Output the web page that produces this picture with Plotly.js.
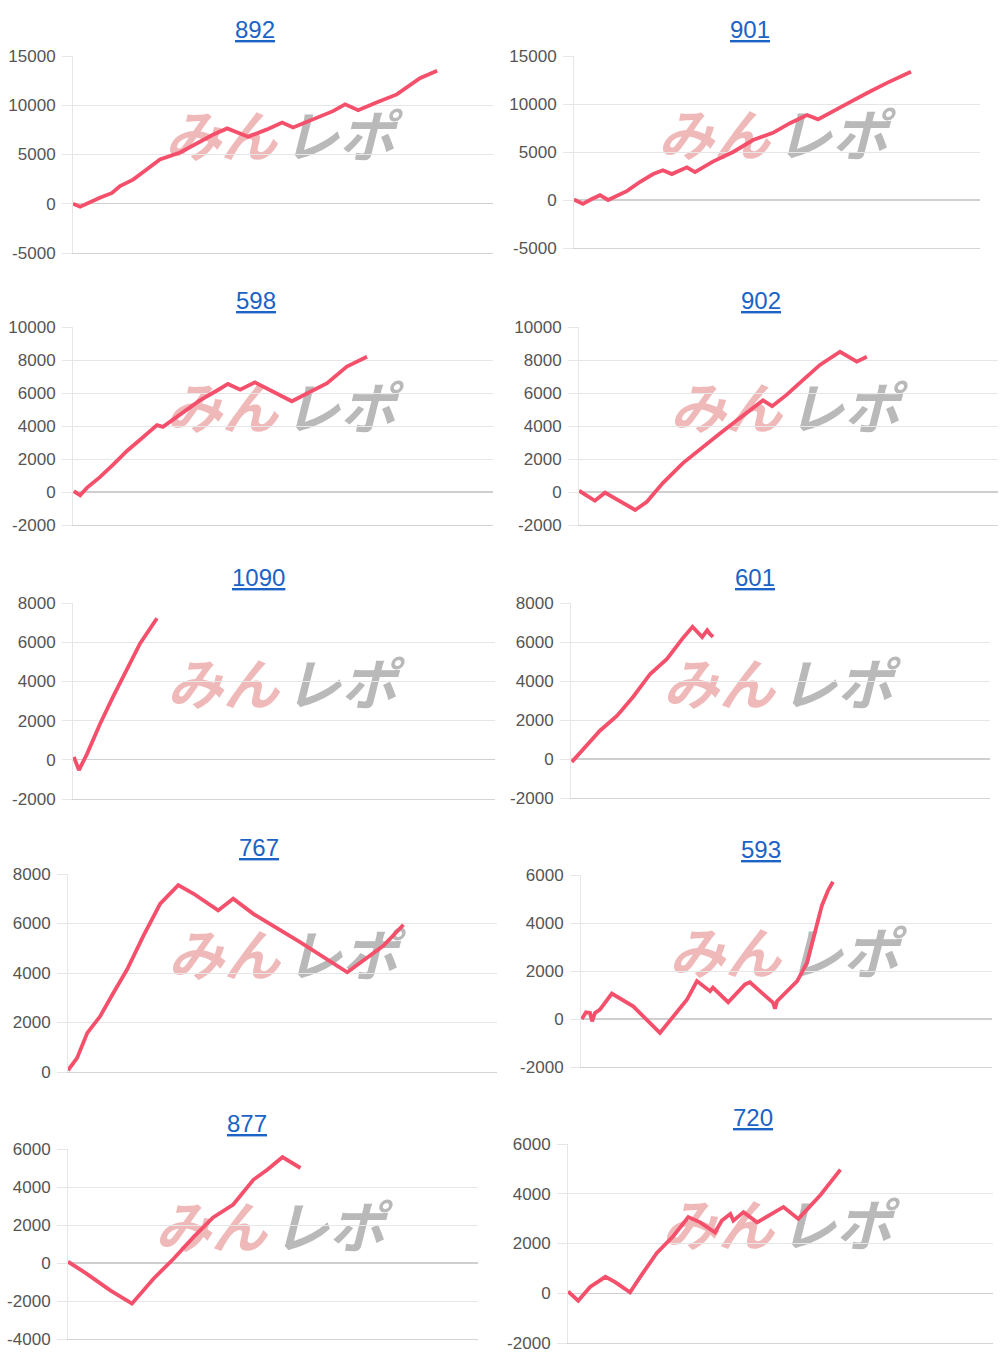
<!DOCTYPE html>
<html>
<head>
<meta charset="utf-8">
<script src="https://cdn.plot.ly/plotly-3.0.1.min.js"></script>
<style>html,body{margin:0;padding:0;background:#fff;}#chart{width:1000px;height:1364px;}</style>
</head>
<body>
<div id="chart"></div>
<script>
// ---- data (x = position along the run, % of axis width; y = cumulative balance) ----
const titles = ['892', '901', '598', '902', '1090', '601', '767', '593', '877', '720'];

const x892 = [0, 1.7, 6.4, 9.3, 11.2, 14.3, 17.6, 20.7, 25.5, 30.2, 33.3, 36.7, 41.7, 46.2, 49.8, 52.4, 57.1, 61.9, 64.8, 67.9, 72.4, 77.1, 82.6, 86.7];
const y892 = [0, -300, 600, 1100, 1800, 2450, 3500, 4500, 5200, 6300, 7000, 7650, 6800, 7550, 8250, 7750, 8600, 9400, 10100, 9500, 10300, 11100, 12750, 13500];

const x901 = [0, 2.2, 4.4, 6.4, 8.4, 13.1, 16.3, 19.5, 21.9, 24.1, 27.8, 29.8, 34.2, 39.2, 44.1, 49.0, 53.2, 57.4, 60.1, 63.1, 68.0, 72.2, 77.1, 83.0];
const y901 = [50, -400, 100, 500, 0, 950, 1900, 2700, 3100, 2700, 3400, 2900, 4000, 5000, 6250, 7000, 8000, 8850, 8400, 9050, 10200, 11150, 12200, 13350];

const x598 = [0.2, 1.7, 3.3, 6.4, 9.5, 12.9, 15.9, 20.0, 21.4, 26.2, 30.2, 34.3, 36.9, 39.8, 43.3, 52.1, 56.4, 60.5, 65.2, 70.0];
const y598 = [50, -200, 250, 900, 1650, 2500, 3150, 4050, 3950, 4800, 5550, 6150, 6550, 6200, 6650, 5500, 6050, 6600, 7600, 8200];

const x902 = [0, 3.8, 6.2, 9.1, 13.4, 16.2, 20.0, 24.8, 28.6, 33.4, 37.7, 41.5, 43.9, 46.1, 49.6, 53.5, 57.5, 62.3, 66.3, 68.7];
const y902 = [80, -530, -40, -480, -1090, -590, 540, 1750, 2550, 3500, 4350, 5100, 5550, 5200, 5900, 6800, 7700, 8500, 7900, 8200];

const x1090 = [0.2, 1.4, 3.3, 6.4, 9.5, 12.8, 15.9, 19.9];
const y1090 = [150, -530, 290, 1830, 3220, 4570, 5940, 7220];

const x601 = [0.2, 3.8, 6.9, 11.0, 14.8, 18.9, 22.9, 26.5, 29.0, 31.3, 32.5, 33.2, 33.9];
const y601 = [-150, 680, 1450, 2220, 3180, 4360, 5130, 6150, 6780, 6250, 6600, 6400, 6260];

const x767 = [0, 2.1, 4.5, 7.5, 10.6, 13.8, 17.6, 21.5, 25.7, 29.2, 35.0, 38.5, 43.2, 47.8, 54.1, 65.1, 69.7, 73.5, 78.2];
const y767 = [70, 560, 1580, 2250, 3200, 4150, 5510, 6800, 7550, 7210, 6530, 7000, 6390, 5920, 5250, 4030, 4640, 5100, 5950];

const x593 = [0.2, 1.2, 2.2, 2.7, 3.4, 4.6, 7.5, 12.7, 19.2, 22.4, 25.8, 28.2, 31.4, 32.1, 35.8, 39.9, 41.1, 46.7, 47.2, 47.7, 52.6, 55.0, 57.0, 58.6, 60.1, 61.3];
const y593 = [0, 280, 250, -100, 250, 390, 1060, 530, -580, 110, 810, 1580, 1160, 1310, 700, 1440, 1530, 680, 430, 740, 1580, 2350, 3600, 4720, 5350, 5720];

const x877 = [0, 4.6, 10.3, 15.6, 20.8, 25.7, 30.6, 35.4, 40.3, 45.2, 48.6, 52.3, 56.7];
const y877 = [70, -570, -1440, -2140, -840, 210, 1360, 2400, 3080, 4380, 4910, 5570, 5000];

const x720 = [0, 2.4, 5.2, 8.8, 11.1, 14.6, 17.0, 20.9, 24.8, 28.3, 31.1, 34.6, 36.2, 38.2, 38.9, 41.3, 44.5, 50.7, 54.2, 59.4, 64.1];
const y720 = [70, -300, 250, 660, 450, 40, 660, 1620, 2300, 3060, 2850, 2440, 2920, 3190, 2920, 3260, 2850, 3470, 2990, 3950, 4970];

const xs = [x892, x901, x598, x902, x1090, x601, x767, x593, x877, x720];
const ys = [y892, y901, y598, y902, y1090, y601, y767, y593, y877, y720];

// ---- layout geometry (pixels on a 1000 x 1364 page) ----
const W = 1000, H = 1364;
const geo = [
  {xd: [73, 493],  yd: [56, 253],   yr: [-5000, 15000], dt: 5000, tp: [255, 30],   wm: [281, 141]},
  {xd: [574, 980], yd: [56, 248],   yr: [-5000, 15000], dt: 5000, tp: [750, 30],   wm: [774, 140]},
  {xd: [73, 493],  yd: [327, 525],  yr: [-2000, 10000], dt: 2000, tp: [256, 300],  wm: [282, 413]},
  {xd: [579, 998], yd: [327, 525],  yr: [-2000, 10000], dt: 2000, tp: [761, 300],  wm: [786, 413]},
  {xd: [73, 495],  yd: [603, 799],  yr: [-2000, 8000],  dt: 2000, tp: [258, 577],  wm: [283, 689]},
  {xd: [571, 990], yd: [603, 798],  yr: [-2000, 8000],  dt: 2000, tp: [755, 577],  wm: [779, 689]},
  {xd: [68, 497],  yd: [874, 1072], yr: [0, 8000],      dt: 2000, tp: [259, 847],  wm: [284, 960]},
  {xd: [581, 992], yd: [875, 1067], yr: [-2000, 6000],  dt: 2000, tp: [761, 849],  wm: [785, 958]},
  {xd: [68, 478],  yd: [1149, 1339],yr: [-4000, 6000],  dt: 2000, tp: [247, 1123], wm: [271, 1232]},
  {xd: [568, 993], yd: [1144, 1343],yr: [-2000, 6000],  dt: 2000, tp: [753, 1117], wm: [778, 1230]}
];

const px = v => v / W;
const py = v => 1 - v / H;

const LINE = '#f5506b';
const data = [];
const layout = {
  width: W, height: H,
  margin: {l: 0, r: 0, t: 0, b: 0},
  paper_bgcolor: '#ffffff', plot_bgcolor: '#ffffff',
  showlegend: false,
  font: {family: 'Liberation Sans, Arial, sans-serif', color: '#555555'},
  annotations: [], shapes: []
};

geo.forEach((g, i) => {
  const n = i === 0 ? '' : String(i + 1);
  data.push({
    type: 'scatter', mode: 'lines',
    x: xs[i], y: ys[i],
    xaxis: 'x' + n, yaxis: 'y' + n,
    line: {color: LINE, width: 3.8},
    hoverinfo: 'skip'
  });
  layout['xaxis' + n] = {
    domain: [px(g.xd[0]), px(g.xd[1])],
    anchor: 'y' + n,
    range: [0, 100],
    showgrid: false, zeroline: false, showticklabels: false, ticks: '',
    showline: true, linecolor: '#d4d4d4', linewidth: 1.2,
    fixedrange: true
  };
  const tv = [];
  for (let v = g.yr[0]; v <= g.yr[1]; v += g.dt) tv.push(v);
  layout['yaxis' + n] = {
    domain: [py(g.yd[1]), py(g.yd[0])],
    anchor: 'x' + n,
    range: g.yr,
    tickmode: 'array', tickvals: tv, ticktext: tv.map(v => String(v)),
    showgrid: true, gridcolor: '#e6e6e6', gridwidth: 1,
    zeroline: true, zerolinecolor: '#cfcfcf', zerolinewidth: 1.2,
    showline: true, linecolor: '#e6e6e6', linewidth: 1,
    ticks: 'outside', ticklen: 10, tickcolor: '#e6e6e6',
    ticklabelstandoff: 3,
    tickfont: {size: 17, color: '#555555', family: 'Liberation Sans, Arial, sans-serif'},
    fixedrange: true
  };
  // panel title (underlined link style)
  layout.annotations.push({
    xref: 'paper', yref: 'paper', x: px(g.tp[0]), y: py(g.tp[1]),
    xanchor: 'center', yanchor: 'middle', showarrow: false,
    text: '<u>' + titles[i] + '</u>',
    font: {size: 24, color: '#1b63c6', family: 'Liberation Sans, Arial, sans-serif'}
  });
  // watermark "みんレポ" drawn beneath the lines
  const parts = [
    {t: 'みん', dx: -60, c: '#f0b9b9'},
    {t: 'レポ', dx: 58, c: '#b9b9b9'}
  ];
  parts.forEach(p => {
    const cx = g.wm[0] + p.dx, cy = g.wm[1];
    layout.shapes.push({
      type: 'rect', xref: 'paper', yref: 'paper', layer: 'below',
      x0: px(cx - 62), x1: px(cx + 62), y0: py(cy + 26), y1: py(cy - 26),
      line: {width: 0}, fillcolor: 'rgba(0,0,0,0)',
      label: {
        text: '<b><i>' + p.t + '</i></b>',
        textposition: 'middle center', padding: 0,
        font: {size: 56, color: p.c, weight: 900, style: 'italic', family: 'Noto Sans CJK JP, sans-serif'}
      }
    });
  });
});

Plotly.newPlot('chart', data, layout, {staticPlot: true, displayModeBar: false});
</script>
</body>
</html>
